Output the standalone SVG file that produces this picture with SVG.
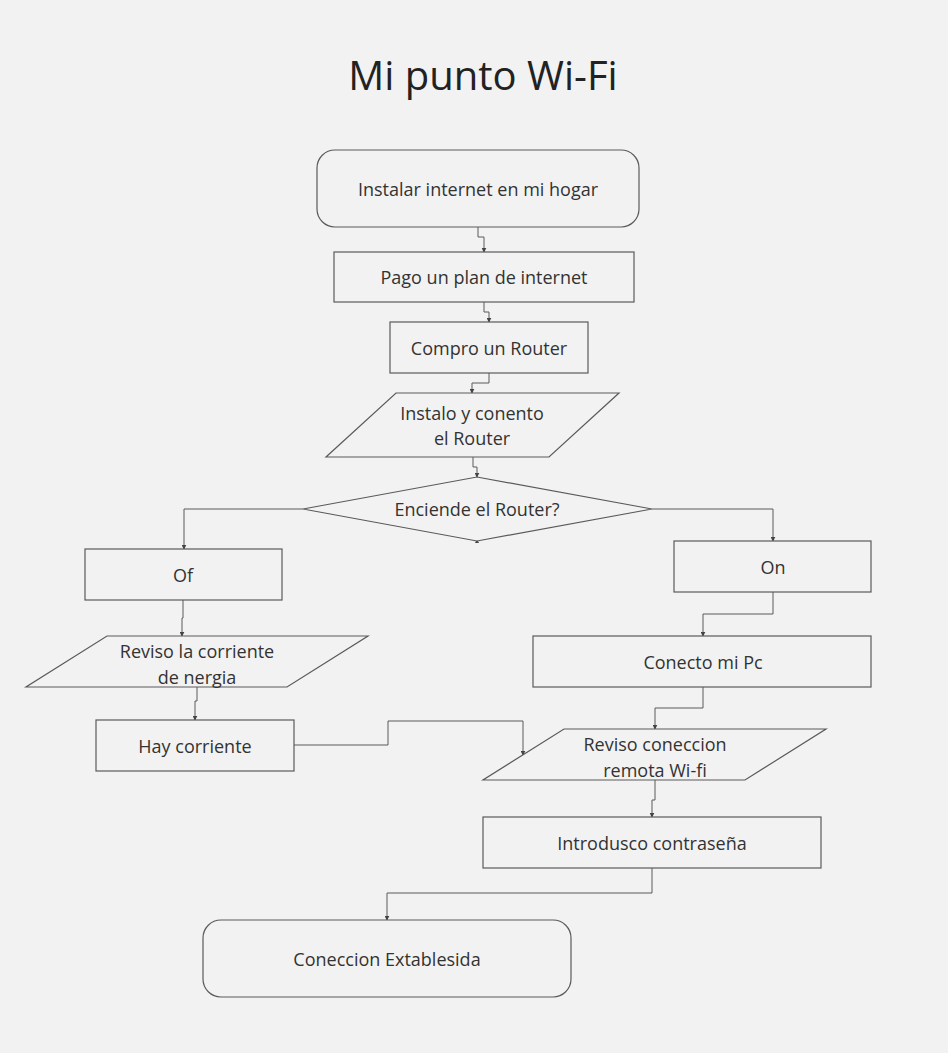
<svg xmlns="http://www.w3.org/2000/svg" width="948" height="1053" viewBox="0 0 948 1053">
<defs>
<style>
.bg{fill:#f2f2f2}
.shape{fill:#f2f2f2;stroke:#5a5a5a;stroke-width:1.2}
.lbl{font-family:"Open Sans","Liberation Sans",sans-serif;font-size:18px;fill:#333;text-anchor:middle;dominant-baseline:central}
.title{font-family:"Open Sans","Liberation Sans",sans-serif;font-size:40px;fill:#222;text-anchor:middle}
.conn{fill:none;stroke:#5a5a5a;stroke-width:1;marker-end:url(#arr)}
</style>
<marker id="arr" viewBox="0 0 8 8" refX="7" refY="4" markerWidth="5" markerHeight="5" orient="auto" markerUnits="userSpaceOnUse">
<path d="M0,0 L8,4 L0,8 z" fill="#444"/>
</marker>
</defs>
<rect class="bg" x="0" y="0" width="948" height="1053"/>
<text class="title" x="483" y="90">Mi punto Wi-Fi</text>

<g id="connectors">
<path class="conn" d="M478,227 V237 H484 V252"/>
<path class="conn" d="M484,302 V312 H489 V322"/>
<path class="conn" d="M489,373 V383 H472 V393"/>
<path class="conn" d="M473,457 V467 H477 V477"/>
<path class="conn" d="M303,509 H184 V549"/>
<path class="conn" d="M652,509 H773 V541"/>
<path class="conn" d="M183,600 V618 H182 V636"/>
<path class="conn" d="M197,687 V701 H195 V720"/>
<path class="conn" d="M294,745 H388 V721 H523 V755"/>
<path class="conn" d="M773,592 V614 H703 V636"/>
<path class="conn" d="M703,687 V708 H655 V729"/>
<path class="conn" d="M655,780 V800 H652 V817"/>
<path class="conn" d="M652,868 V893 H387 V920"/>
<path d="M475,543 L477,539 L479,543 z" fill="#444"/>
</g>

<g id="n-start">
<rect class="shape" x="317" y="150" width="322" height="77" rx="18"/>
<text class="lbl" x="478" y="189">Instalar internet en mi hogar</text>
</g>
<g id="n-pago">
<rect class="shape" x="334" y="252" width="300" height="50"/>
<text class="lbl" x="484" y="277">Pago un plan de internet</text>
</g>
<g id="n-compro">
<rect class="shape" x="390" y="322" width="198" height="51"/>
<text class="lbl" x="489" y="348">Compro un Router</text>
</g>
<g id="n-instalo">
<polygon class="shape" points="396,393 619,393 549,457 326,457"/>
<text class="lbl" x="472" y="413">Instalo y conento</text>
<text class="lbl" x="472" y="438">el Router</text>
</g>
<g id="n-decision">
<polygon class="shape" points="303,509 477,477 652,509 477,541"/>
<text class="lbl" x="477" y="509">Enciende el Router?</text>
</g>
<g id="n-of">
<rect class="shape" x="85" y="549" width="197" height="51"/>
<text class="lbl" x="183" y="575">Of</text>
</g>
<g id="n-reviso-corriente">
<polygon class="shape" points="107,636 368,636 287,687 26,687"/>
<text class="lbl" x="197" y="651">Reviso la corriente</text>
<text class="lbl" x="197" y="677">de nergia</text>
</g>
<g id="n-hay">
<rect class="shape" x="96" y="720" width="198" height="51"/>
<text class="lbl" x="195" y="746">Hay corriente</text>
</g>
<g id="n-on">
<rect class="shape" x="674" y="541" width="197" height="51"/>
<text class="lbl" x="773" y="567">On</text>
</g>
<g id="n-conecto">
<rect class="shape" x="533" y="636" width="338" height="51"/>
<text class="lbl" x="703" y="662">Conecto mi Pc</text>
</g>
<g id="n-reviso-conex">
<polygon class="shape" points="564,729 826,729 745,780 483,780"/>
<text class="lbl" x="655" y="744">Reviso coneccion</text>
<text class="lbl" x="655" y="770">remota Wi-fi</text>
</g>
<g id="n-introdusco">
<rect class="shape" x="483" y="817" width="338" height="51"/>
<text class="lbl" x="652" y="843">Introdusco contraseña</text>
</g>
<g id="n-end">
<rect class="shape" x="203" y="920" width="368" height="77" rx="18"/>
<text class="lbl" x="387" y="959">Coneccion Extablesida</text>
</g>
</svg>
